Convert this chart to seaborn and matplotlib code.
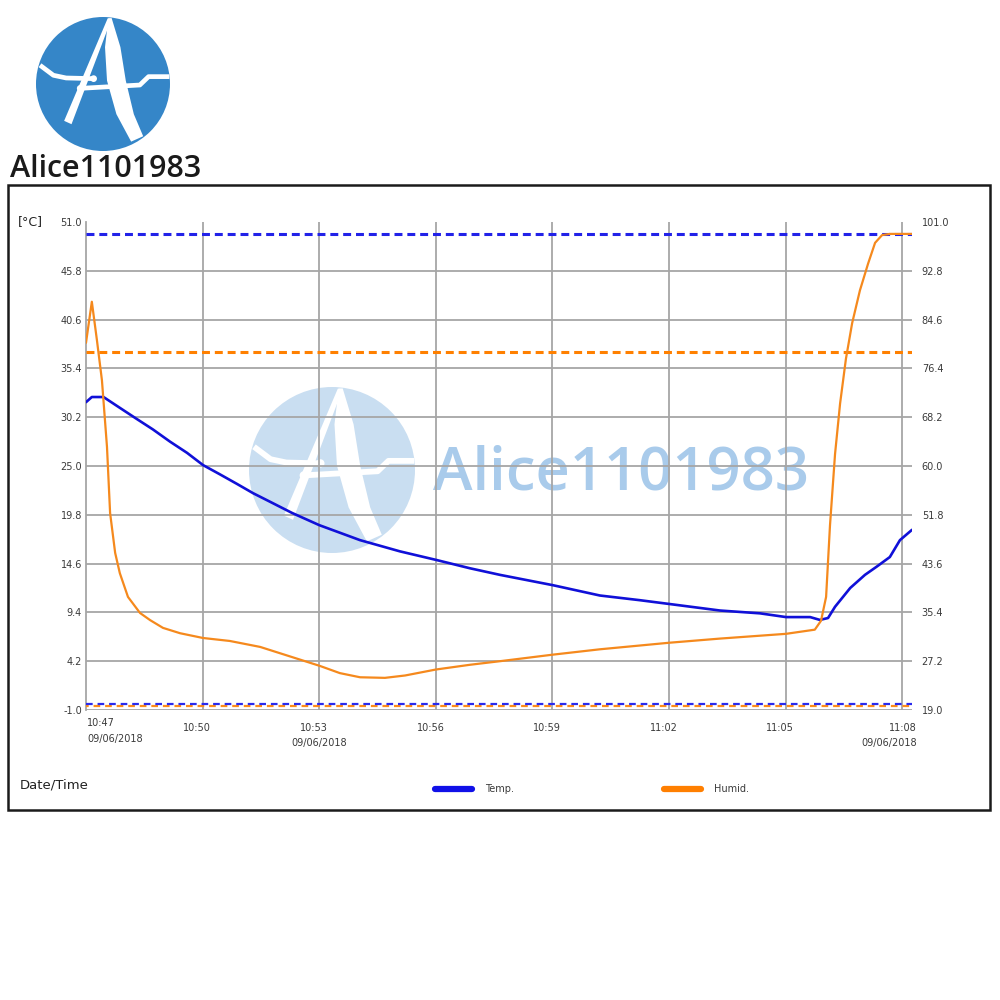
import matplotlib
matplotlib.use("Agg")
import matplotlib.pyplot as plt
import seaborn as sns
from matplotlib.patches import Circle, Rectangle, Polygon
from matplotlib.lines import Line2D

# Logger export 09/06/2018, minutes after 10:47
temp_minutes = [0, 0.15, 0.45, 0.87, 1.31, 1.72, 2.16, 2.60, 3.01, 3.45, 3.88, 4.30, 4.73,
                5.3, 6.0, 7.05, 8.08, 9.0, 9.88, 10.65, 12.01, 13.22, 14.25, 15.0, 16.31,
                17.34, 18.01, 18.63, 18.88, 19.09, 19.27, 19.66, 20.04, 20.35, 20.68, 20.94, 21.25]
temp_values = [31.8, 32.35, 32.35, 31.2, 30.0, 28.9, 27.6, 26.4, 25.1, 24.1, 23.1, 22.1, 21.2,
               20.0, 18.7, 17.1, 15.9, 15.0, 14.1, 13.4, 12.3, 11.2, 10.7, 10.3, 9.6,
               9.3, 8.9, 8.9, 8.6, 8.8, 10.0, 12.0, 13.4, 14.3, 15.3, 17.1, 18.2]

humid_minutes = [0, 0.15, 0.28, 0.41, 0.54, 0.62, 0.75, 0.87, 1.08, 1.39, 1.65, 1.98,
                 2.42, 3.01, 3.70, 4.48, 5.25, 6.02, 6.53, 7.05, 7.69, 8.21, 9.0,
                 9.88, 10.65, 12.01, 13.22, 15.0, 16.31, 18.01, 18.75, 18.91, 19.04,
                 19.14, 19.27, 19.40, 19.55, 19.71, 19.91, 20.12, 20.30, 20.48, 20.68, 21.25]
humid_values = [80.7, 87.6, 81.2, 74.4, 63.2, 52.1, 45.4, 42.0, 38.0, 35.3, 34.1, 32.8,
                31.9, 31.1, 30.6, 29.6, 28.0, 26.4, 25.2, 24.5, 24.4, 24.8, 25.8,
                26.6, 27.2, 28.3, 29.2, 30.3, 31.0, 31.8, 32.5, 34.0, 38.0,
                50.0, 62.0, 70.5, 78.0, 84.0, 89.5, 94.0, 97.5, 98.8, 99.0, 99.0]

# alarm limits
temp_high, temp_low = 49.7, -0.4
humid_high, humid_low = 79.2, 19.6

temp_ticks = [-1.0, 4.2, 9.4, 14.6, 19.8, 25.0, 30.2, 35.4, 40.6, 45.8, 51.0]
humid_ticks = [19.0, 27.2, 35.4, 43.6, 51.8, 60.0, 68.2, 76.4, 84.6, 92.8, 101.0]
time_ticks = [0, 3, 6, 9, 12, 15, 18, 21]
time_labels = ["10:47", "10:50", "10:53", "10:56", "10:59", "11:02", "11:05", "11:08"]
date_label = "09/06/2018"

BLUE = "#1010d8"
ORANGE = "#f5891d"
GRID = "#a6a6a6"
TXT = "#3a3a3a"


def px(x, y):
    return x / 1000, 1 - y / 1000


def draw_logo(fig, cx, cy, r, face, z):
    def p(u, v):
        return px(cx + u * r, cy + v * r)
    kw = dict(transform=fig.transFigure, zorder=z)
    fig.add_artist(Circle(px(cx, cy), r / 1000, fc=face, ec="none", **kw))
    left_leg = [(0.07, -0.98), (0.13, -0.98), (-0.47, 0.60), (-0.58, 0.55)]
    right_leg = [(0.13, -0.98), (0.26, -0.55), (0.34, -0.05), (0.46, 0.45), (0.60, 0.78),
                 (0.42, 0.86), (0.20, 0.45), (0.06, -0.05), (0.03, -0.55), (0.08, -0.98)]
    for shape in (left_leg, right_leg):
        fig.add_artist(Polygon([p(u, v) for u, v in shape], fc="white", ec="none", **kw))
    lw = 0.07 * r * 0.72
    for path in ([(-0.94, -0.28), (-0.74, -0.13), (-0.55, -0.09), (-0.14, -0.08)],
                 [(-0.34, 0.065), (0.55, 0.015), (0.68, -0.11), (0.99, -0.11)]):
        xs, ys = zip(*[p(u, v) for u, v in path])
        fig.add_artist(Line2D(xs, ys, color="white", lw=lw, solid_capstyle="butt", **kw))
    for u, v in [(-0.14, -0.08), (-0.34, 0.065)]:
        fig.add_artist(Circle(p(u, v), 0.05 * r / 1000, fc="white", ec="none", **kw))


sns.set_theme(style="white")
plt.rcParams["font.family"] = ["DejaVu Sans"]

fig = plt.figure(figsize=(10, 10), dpi=100)

# logo and watermark
draw_logo(fig, 103, 84, 67, "#3586c8", 2)
fig.text(*px(10, 177), "Alice1101983", fontsize=22, family=["Open Sans", "DejaVu Sans"],
         fontweight="semibold", color="#1a1a1a", va="baseline")
draw_logo(fig, 332, 470, 83, "#c9def1", -2)
fig.text(*px(433, 489), "Alice1101983", fontsize=43, family=["Open Sans", "DejaVu Sans"],
         fontweight="semibold", color="#a9cbeb", va="baseline", zorder=-2)

# outer frame
fig.add_artist(Rectangle(px(8, 810), 0.982, 0.625, transform=fig.transFigure,
                         fill=False, lw=1.8, ec="#1a1a1a"))

ax = fig.add_axes([0.086, 0.290, 0.826, 0.488])
ax.patch.set_alpha(0)

for t in temp_ticks[:-1]:
    ax.axhline(t, color=GRID, lw=1.3, zorder=0)
for m in time_ticks[1:]:
    ax.axvline(m, color=GRID, lw=1.3, zorder=0)

ax.axhline(temp_high, color="#2222e8", lw=2.2, ls=(0, (2.6, 1.6)), zorder=3)
sns.lineplot(x=temp_minutes, y=temp_values, ax=ax, color=BLUE, lw=1.9, sort=False,
             legend=False, zorder=4)

ax.set_xlim(0, 21.25)
ax.set_ylim(-1, 51)
ax.set_yticks(temp_ticks, labels=[f"{t:.1f}" for t in temp_ticks])
ax.set_xticks(time_ticks[1:], labels=[""] * (len(time_ticks) - 1))
ax.tick_params(axis="y", length=0, pad=3, labelsize=7, labelcolor=TXT)
ax.tick_params(axis="x", length=5, width=1.3, color=GRID, direction="out")
for s in ["top", "right", "bottom"]:
    ax.spines[s].set_visible(False)
ax.spines["left"].set_color(GRID)
ax.spines["left"].set_linewidth(1.3)
ax.set_xlabel("")
ax.set_ylabel("")

ax2 = ax.twinx()
ax2.axhline(humid_high, color="#ff8000", lw=2.2, ls=(0, (2.6, 1.6)), zorder=3)
ax2.axhline(humid_low, color="#ff8c1a", lw=1.6, ls=(1.8, (3.0, 2.2)), zorder=2)
sns.lineplot(x=humid_minutes, y=humid_values, ax=ax2, color=ORANGE, lw=1.6, sort=False,
             legend=False, zorder=5)
ax2.set_ylim(19, 101)
ax2.set_yticks(humid_ticks, labels=[f"{t:.1f}" for t in humid_ticks])
ax2.tick_params(axis="y", length=0, pad=7, labelsize=7, labelcolor=TXT)
for s in ax2.spines.values():
    s.set_visible(False)
ax2.set_ylabel("")

# lower temp limit over the humidity one
ax2.plot([0, 21.25], [19.0 + (temp_low + 1) / 52 * 82] * 2, color="#2a2aee", lw=1.6,
         ls=(0, (3.0, 2.2)), zorder=3)

# time axis labels
xt = ax.get_xaxis_transform()
for m, lab in zip(time_ticks, time_labels):
    if lab == "10:47":
        ax.text(0.03, -0.027, lab, transform=xt, ha="left", va="center", fontsize=7, color=TXT)
        ax.text(0.03, -0.060, date_label, transform=xt, ha="left", va="center", fontsize=7, color=TXT)
    elif lab == "11:08":
        ax.text(21.38, -0.037, lab, transform=xt, ha="right", va="center", fontsize=7, color=TXT)
        ax.text(21.38, -0.068, date_label, transform=xt, ha="right", va="center", fontsize=7, color=TXT)
    else:
        ax.text(m - 0.14, -0.037, lab, transform=xt, ha="center", va="center", fontsize=7, color=TXT)
        if lab == "10:53":
            ax.text(m, -0.068, date_label, transform=xt, ha="center", va="center", fontsize=7, color=TXT)

fig.text(*px(18, 222), "[°C]", fontsize=9, va="center", color="#222222")
fig.text(*px(20, 785), "Date/Time", fontsize=9.5, va="center", color="#222222")

handles = [Line2D([], [], color="#1010e8", lw=4.5), Line2D([], [], color="#ff7f00", lw=4.5)]
fig.legend(handles, ["Temp.", "Humid."], loc="center left", bbox_to_anchor=px(435, 789),
           ncol=2, frameon=False, fontsize=7, handlelength=3.8, handletextpad=1.3,
           columnspacing=15.5, borderpad=0, borderaxespad=0, labelcolor=TXT)

plt.savefig("out.png", dpi=100)
